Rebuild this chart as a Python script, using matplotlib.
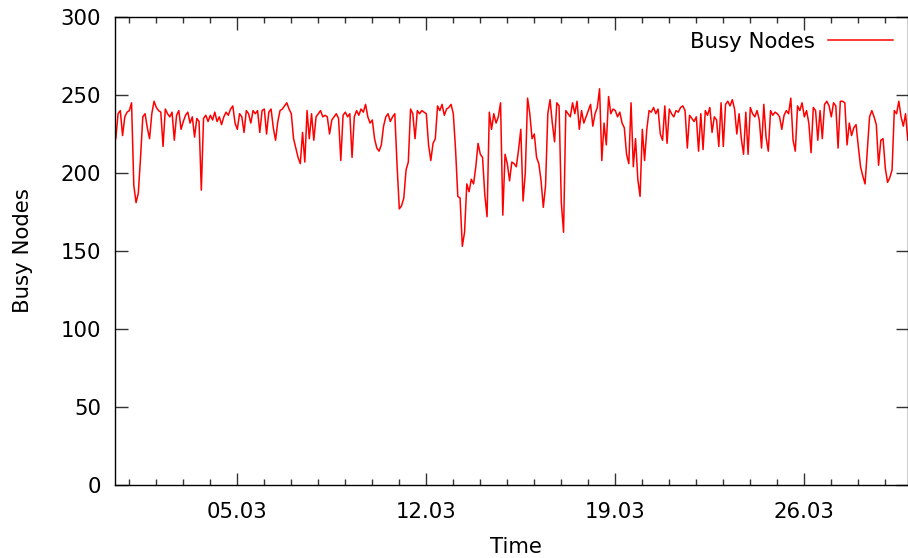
import matplotlib
matplotlib.use("Agg")
import matplotlib.pyplot as plt
import matplotlib.dates as mdates
import pandas as pd

# busy nodes, 2-hour samples, one row per day (starts 29.02 12:00)
day00 = [222, 238, 240, 224, 236, 239]
day01 = [240, 245, 192, 181, 187, 210, 236, 238, 229, 222, 238, 246]
day02 = [242, 240, 239, 217, 241, 238, 236, 239, 221, 237, 240, 228]
day03 = [233, 237, 239, 232, 236, 223, 235, 233, 189, 235, 237, 233]
day04 = [237, 234, 239, 233, 236, 231, 236, 239, 237, 241, 243, 232]
day05 = [228, 238, 236, 226, 240, 238, 232, 240, 238, 240, 226, 240]
day06 = [241, 225, 239, 241, 229, 221, 233, 240, 241, 243, 245, 241]
day07 = [238, 222, 216, 210, 206, 226, 207, 240, 222, 238, 221, 236]
day08 = [238, 240, 236, 237, 236, 225, 234, 236, 238, 235, 208, 237]
day09 = [239, 236, 238, 210, 236, 240, 237, 241, 239, 244, 236, 232]
day10 = [234, 222, 216, 214, 218, 230, 236, 238, 233, 236, 238, 205]
day11 = [177, 179, 184, 202, 207, 241, 238, 222, 240, 238, 240, 239]
day12 = [238, 218, 208, 219, 222, 243, 240, 244, 237, 241, 242, 244]
day13 = [238, 215, 185, 184, 153, 162, 193, 188, 196, 193, 204, 219]
day14 = [212, 210, 186, 172, 239, 228, 238, 232, 236, 245, 173, 212]
day15 = [206, 195, 207, 206, 204, 215, 228, 182, 200, 248, 238, 222]
day16 = [225, 210, 206, 195, 178, 192, 238, 247, 232, 220, 245, 243]
day17 = [181, 162, 240, 238, 236, 245, 238, 246, 228, 240, 232, 236]
day18 = [240, 244, 230, 238, 242, 254, 208, 232, 218, 249, 238, 241]
day19 = [240, 236, 239, 232, 229, 212, 206, 245, 204, 222, 196, 185]
day20 = [228, 208, 228, 240, 239, 242, 238, 241, 225, 221, 243, 219]
day21 = [241, 238, 236, 240, 239, 242, 243, 240, 216, 237, 235, 233]
day22 = [236, 214, 238, 215, 240, 237, 242, 226, 236, 234, 217, 245]
day23 = [217, 244, 246, 243, 247, 241, 225, 238, 222, 212, 239, 212]
day24 = [242, 238, 236, 240, 234, 216, 244, 223, 214, 240, 237, 239]
day25 = [238, 236, 228, 237, 240, 238, 248, 221, 214, 243, 240, 245]
day26 = [236, 240, 232, 213, 242, 240, 221, 240, 222, 244, 246, 243]
day27 = [236, 245, 243, 216, 246, 246, 245, 218, 232, 224, 229, 231]
day28 = [217, 204, 198, 193, 215, 236, 240, 236, 231, 205, 221, 222]
day29 = [203, 194, 197, 202, 240, 238, 246, 236, 230, 238, 221]

days = [day00, day01, day02, day03, day04, day05, day06, day07, day08, day09,
        day10, day11, day12, day13, day14, day15, day16, day17, day18, day19,
        day20, day21, day22, day23, day24, day25, day26, day27, day28, day29]
busy = [v for d in days for v in d]
times = pd.date_range("2012-02-29 12:00", periods=len(busy), freq="2h")

y_ticks = [0, 50, 100, 150, 200, 250, 300]

FS = 15.3
plt.rcParams["font.family"] = ["DejaVu Sans"]
plt.rcParams["font.size"] = FS

fig = plt.figure(figsize=(9.08, 5.58), dpi=100)
ax = fig.add_axes([115 / 908, 1 - 485 / 558, 793 / 908, 468 / 558])

ax.plot(times, busy, color="#ff0000", lw=1.1, label="Busy Nodes")

ax.set_xlim(pd.Timestamp("2012-02-29 11:17"), pd.Timestamp("2012-03-29 20:10"))
ax.set_ylim(0, 300)
ax.set_yticks(y_ticks)

ax.xaxis.set_major_locator(mdates.DayLocator(bymonthday=[5, 12, 19, 26]))
ax.xaxis.set_minor_locator(mdates.DayLocator())
ax.xaxis.set_major_formatter(mdates.DateFormatter("%d.%m"))

ax.tick_params(which="both", direction="in", top=True, right=True, color="#333333")
ax.tick_params(which="major", length=9, width=1, labelsize=FS)
ax.tick_params(which="minor", length=4.5, width=1)
ax.tick_params(axis="x", pad=12)
ax.tick_params(axis="y", pad=10)
for s in ax.spines.values():
    s.set_linewidth(1)

ax.set_xlabel("Time", fontsize=FS)
ax.set_ylabel("Busy Nodes", fontsize=FS)
ax.xaxis.set_label_coords(0.506, -0.132)
ax.xaxis.label.set_va("center")
ax.yaxis.set_label_coords(-0.116, 0.5)
ax.yaxis.label.set_va("center")

ax.legend(loc="upper right", frameon=False, markerfirst=False,
          handlelength=3.05, handletextpad=0.65, borderpad=0.4,
          borderaxespad=0.3, fontsize=FS)

fig.savefig("out.png", dpi=100)
